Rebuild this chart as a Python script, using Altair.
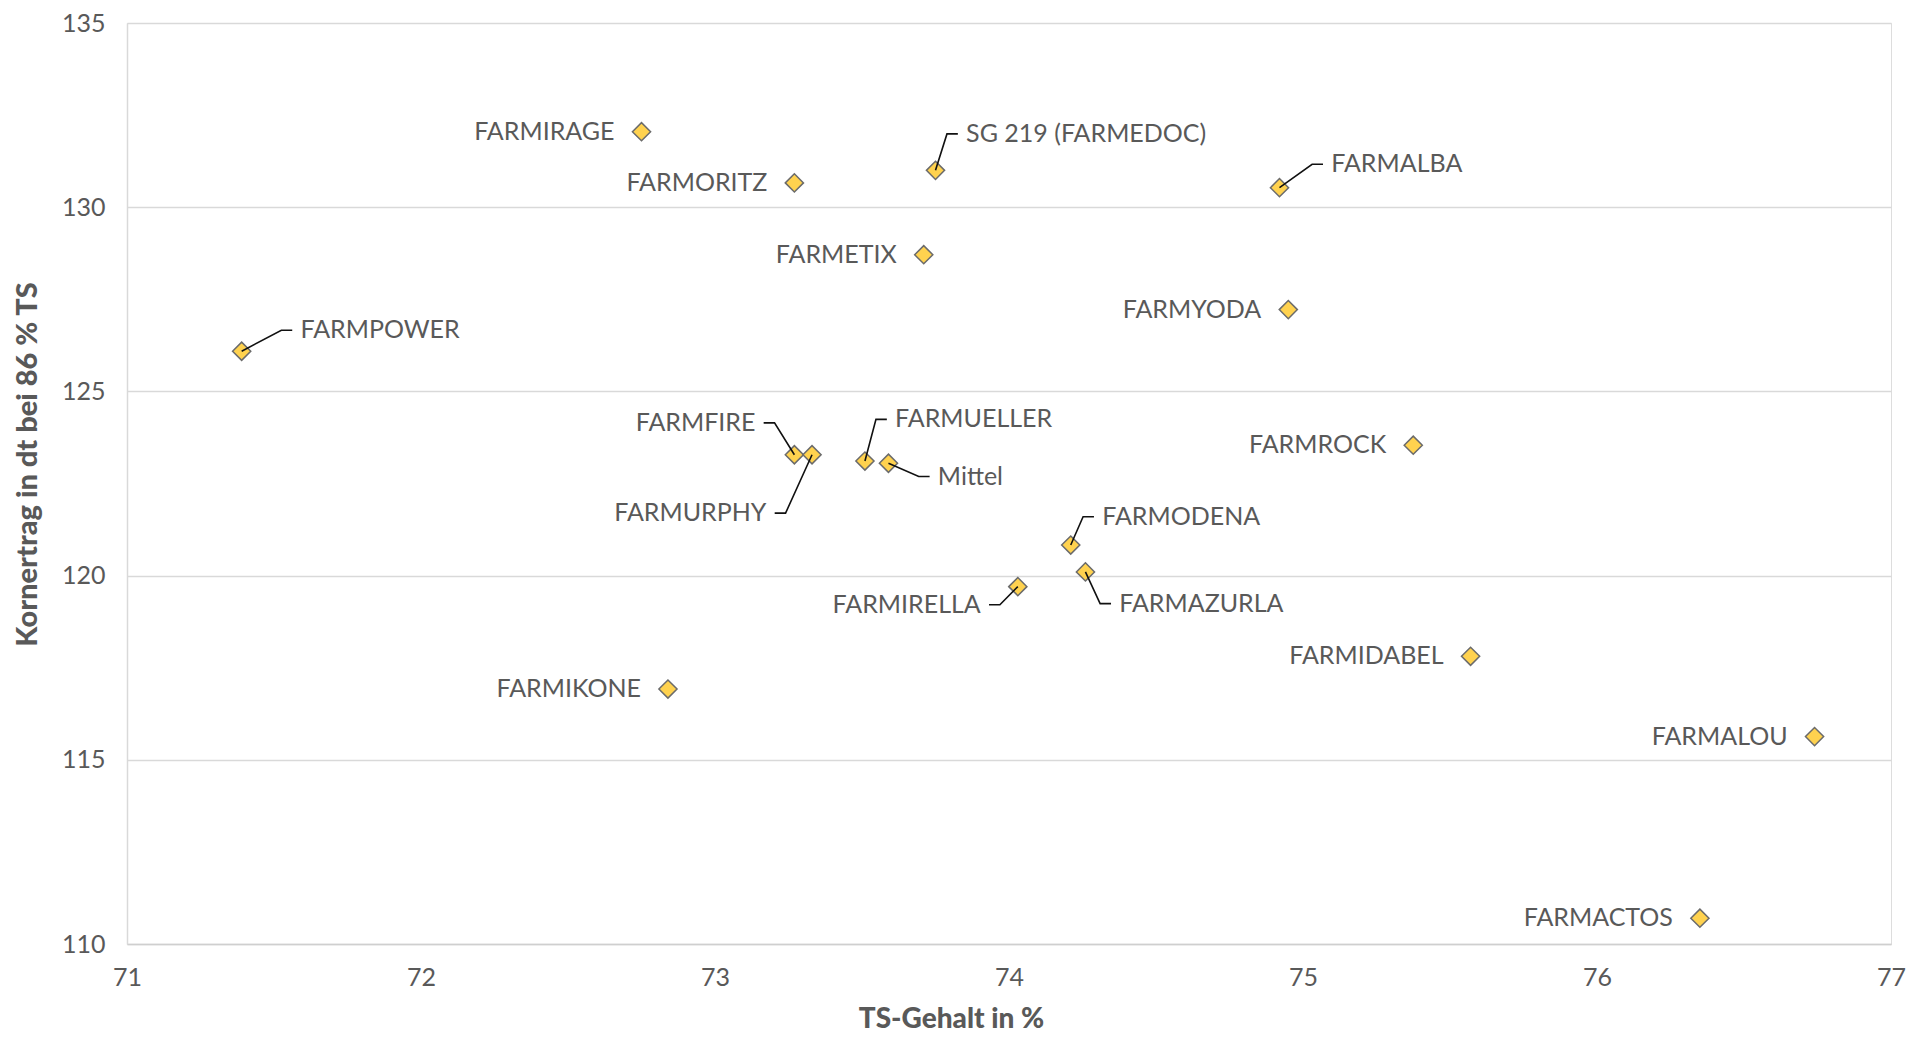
import altair as alt
import pandas as pd

# --- data ---
names = ["FARMIRAGE", "FARMORITZ", "SG 219 (FARMEDOC)", "FARMALBA", "FARMETIX",
         "FARMYODA", "FARMPOWER", "FARMFIRE", "FARMURPHY", "FARMUELLER", "Mittel",
         "FARMROCK", "FARMODENA", "FARMAZURLA", "FARMIRELLA", "FARMIDABEL",
         "FARMIKONE", "FARMALOU", "FARMACTOS"]
ts_gehalt = [72.75, 73.27, 73.75, 74.92, 73.71, 74.95, 71.39, 73.27, 73.33, 73.51,
             73.59, 75.375, 74.21, 74.26, 74.03, 75.57, 72.84, 76.74, 76.35]
kornertrag = [132.05, 130.66, 131.0, 130.53, 128.71, 127.22, 126.09, 123.28, 123.28,
              123.11, 123.05, 123.54, 120.83, 120.10, 119.70, 117.81, 116.92, 115.63, 110.70]

# labels that sit away from their point, joined by a leader line
leader_names = ["FARMPOWER", "SG 219 (FARMEDOC)", "FARMALBA", "FARMFIRE", "FARMURPHY",
                "FARMUELLER", "Mittel", "FARMODENA", "FARMAZURLA", "FARMIRELLA"]
leader_side = ["right", "right", "right", "left", "left",
               "right", "right", "right", "right", "left"]
label_x = [71.59, 73.854, 75.096, 73.1375, 73.175, 73.6125, 73.758, 74.317, 74.375, 73.904]
label_y = [126.66, 131.99, 131.165, 124.145, 121.695, 124.24, 122.69, 121.596, 119.24, 119.21]

x_ticks = [71, 72, 73, 74, 75, 76, 77]
y_ticks = [110, 115, 120, 125, 130, 135]

# --- tables ---
pts = pd.DataFrame({"name": names, "x": ts_gehalt, "y": kornertrag})
lead = pd.DataFrame({"name": leader_names, "side": leader_side, "lx": label_x, "ly": label_y})
plain = pts[~pts["name"].isin(leader_names)]

SEG, ELB = 0.028, 0.065
rows = []
for _, r in lead.iterrows():
    p = pts[pts["name"] == r["name"]].iloc[0]
    s = 1 if r["side"] == "right" else -1
    rows.append({"name": r["name"], "o": 0, "x": p["x"], "y": p["y"]})
    rows.append({"name": r["name"], "o": 1, "x": r["lx"] - s * ELB, "y": r["ly"]})
    rows.append({"name": r["name"], "o": 2, "x": r["lx"] - s * SEG, "y": r["ly"]})
lines = pd.DataFrame(rows)

FONT = "Lato"
GREY = "#595959"
FS = 25

xs = alt.Scale(domain=[71, 77], nice=False, zero=False)
ys = alt.Scale(domain=[110, 135], nice=False, zero=False)

xax = alt.Axis(values=x_ticks, format="d", grid=False, ticks=False, labelPadding=21,
               labelFlush=False, domainColor="#cfcfcf", domainWidth=1.5,
               labelFont=FONT, labelFontSize=FS, labelColor=GREY,
               title="TS-Gehalt in %", titleFont=FONT, titleFontSize=28,
               titleFontWeight=900, titleColor=GREY,
               titleX=824, titleY=75, titleAlign="center", titleBaseline="middle")
yax = alt.Axis(values=y_ticks, format="d", grid=True, gridColor="#d9d9d9", gridWidth=1.5,
               ticks=False, labelPadding=22, labelFlush=False,
               domainColor="#d9d9d9", domainWidth=1.5,
               labelFont=FONT, labelFontSize=FS, labelColor=GREY,
               title="Kornertrag in dt bei 86 % TS", titleFont=FONT, titleFontSize=29,
               titleFontWeight=900, titleColor=GREY,
               titleX=-100, titleY=441, titleAlign="center", titleBaseline="middle")

base_pts = alt.Chart(pts).mark_point(
    shape="diamond", filled=True, fill="#FFD24F", stroke="#6b6b6b",
    strokeWidth=1.5, size=330, opacity=1
).encode(x=alt.X("x:Q", scale=xs, axis=xax), y=alt.Y("y:Q", scale=ys, axis=yax))

leaders = alt.Chart(lines).mark_line(color="#111111", strokeWidth=1.6).encode(
    x=alt.X("x:Q", scale=xs), y=alt.Y("y:Q", scale=ys),
    detail="name:N", order="o:Q")

plain_txt = alt.Chart(plain).mark_text(
    align="right", baseline="middle", dx=-27, font=FONT, fontSize=FS, color=GREY
).encode(x=alt.X("x:Q", scale=xs), y=alt.Y("y:Q", scale=ys), text="name:N")

right_txt = alt.Chart(lead[lead["side"] == "right"]).mark_text(
    align="left", baseline="middle", font=FONT, fontSize=FS, color=GREY
).encode(x=alt.X("lx:Q", scale=xs), y=alt.Y("ly:Q", scale=ys), text="name:N")

left_txt = alt.Chart(lead[lead["side"] == "left"]).mark_text(
    align="right", baseline="middle", font=FONT, fontSize=FS, color=GREY
).encode(x=alt.X("lx:Q", scale=xs), y=alt.Y("ly:Q", scale=ys), text="name:N")

chart = alt.layer(base_pts, leaders, plain_txt, right_txt, left_txt).properties(
    width=1764, height=921,
    autosize=alt.AutoSizeParams(type="none"),
    padding={"left": 119, "top": 15, "right": 16, "bottom": 90},
).configure_view(stroke=None).configure(background="white")

chart.save("out.html", embed_options={"renderer": "svg", "actions": False})
